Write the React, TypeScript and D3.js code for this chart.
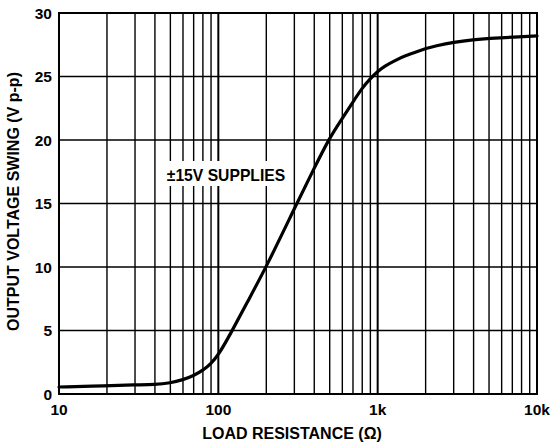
import React from "react";
import * as d3 from "d3";

const resistance = [10, 20, 30, 40, 50, 60, 70, 80, 90, 100, 120, 150, 200, 300, 400, 500, 600, 700, 800, 900, 1000, 1100, 1300, 1500, 1800, 2000, 2300, 3000, 4000, 5000, 7000, 10000];
const swing = [0.55, 0.65, 0.72, 0.74, 0.86, 1.12, 1.45, 1.85, 2.4, 3.05, 4.8, 7.1, 10.0, 14.6, 17.8, 20.2, 21.7, 23.0, 24.1, 24.85, 25.4, 25.8, 26.3, 26.65, 27.0, 27.2, 27.4, 27.7, 27.9, 28.0, 28.1, 28.2];
const yTicks = [0, 5, 10, 15, 20, 25, 30];
const xTicks = [10, 100, 1000, 10000];
const xTickLabels = ["10", "100", "1k", "10k"];
const xTitle = "LOAD RESISTANCE (Ω)";
const yTitle = "OUTPUT VOLTAGE SWING (V p-p)";
const annotation = "±15V SUPPLIES";

const W = 552;
const H = 444;
const L = 59, R = 537, T = 13, B = 394;
const FONT = "Arial, 'Liberation Sans', sans-serif";

export default function App() {
  const x = d3.scaleLog().domain([10, 10000]).range([L, R]);
  const y = d3.scaleLinear().domain([0, 30]).range([B, T]);
  const minor: number[] = [];
  for (const dec of [10, 100, 1000]) {
    for (let k = 2; k <= 9; k++) minor.push(dec * k);
  }
  const pts = resistance.map((r, i) => [r, swing[i]] as [number, number]);
  const line = d3
    .line<[number, number]>()
    .x((d) => x(d[0]))
    .y((d) => y(d[1]))
    .curve(d3.curveBasis);

  return (
    <div style={{ position: "absolute", left: 0, top: 0 }}>
      <svg width={W} height={H} style={{ display: "block", background: "#fff" }}>
        <rect x={0} y={0} width={W} height={H} fill="#fff" />
        {yTicks.slice(1, -1).map((v) => (
          <line key={"h" + v} x1={L} x2={R} y1={y(v)} y2={y(v)} stroke="#000" strokeWidth={1.4} />
        ))}
        {minor.map((v) => (
          <line key={"m" + v} x1={x(v)} x2={x(v)} y1={T} y2={B} stroke="#000" strokeWidth={1.4} />
        ))}
        {[100, 1000].map((v) => (
          <line key={"M" + v} x1={x(v)} x2={x(v)} y1={T} y2={B} stroke="#000" strokeWidth={2} />
        ))}
        <rect x={163} y={161} width={126} height={25} fill="#fff" />
        <text x={226} y={181} textAnchor="middle" fontFamily={FONT} fontWeight="bold" fontSize={15.7}>
          {annotation}
        </text>
        <path d={line(pts) || ""} fill="none" stroke="#000" strokeWidth={3.2} strokeLinejoin="round" strokeLinecap="round" />
        <rect x={L} y={T} width={R - L} height={B - T} fill="none" stroke="#000" strokeWidth={2} />
        {yTicks.map((v) => (
          <text key={"yt" + v} x={52} y={y(v) + 5.5} textAnchor="end" fontFamily={FONT} fontWeight="bold" fontSize={15.5}>
            {v}
          </text>
        ))}
        {xTicks.map((v, i) => (
          <text key={"xt" + v} x={x(v)} y={415} textAnchor="middle" fontFamily={FONT} fontWeight="bold" fontSize={15.5}>
            {xTickLabels[i]}
          </text>
        ))}
        <text x={292} y={439} textAnchor="middle" fontFamily={FONT} fontWeight="bold" fontSize={16}>
          {xTitle}
        </text>
        <text transform={`translate(18.5,201.5) rotate(-90)`} textAnchor="middle" fontFamily={FONT} fontWeight="bold" fontSize={16}>
          {yTitle}
        </text>
      </svg>
    </div>
  );
}
